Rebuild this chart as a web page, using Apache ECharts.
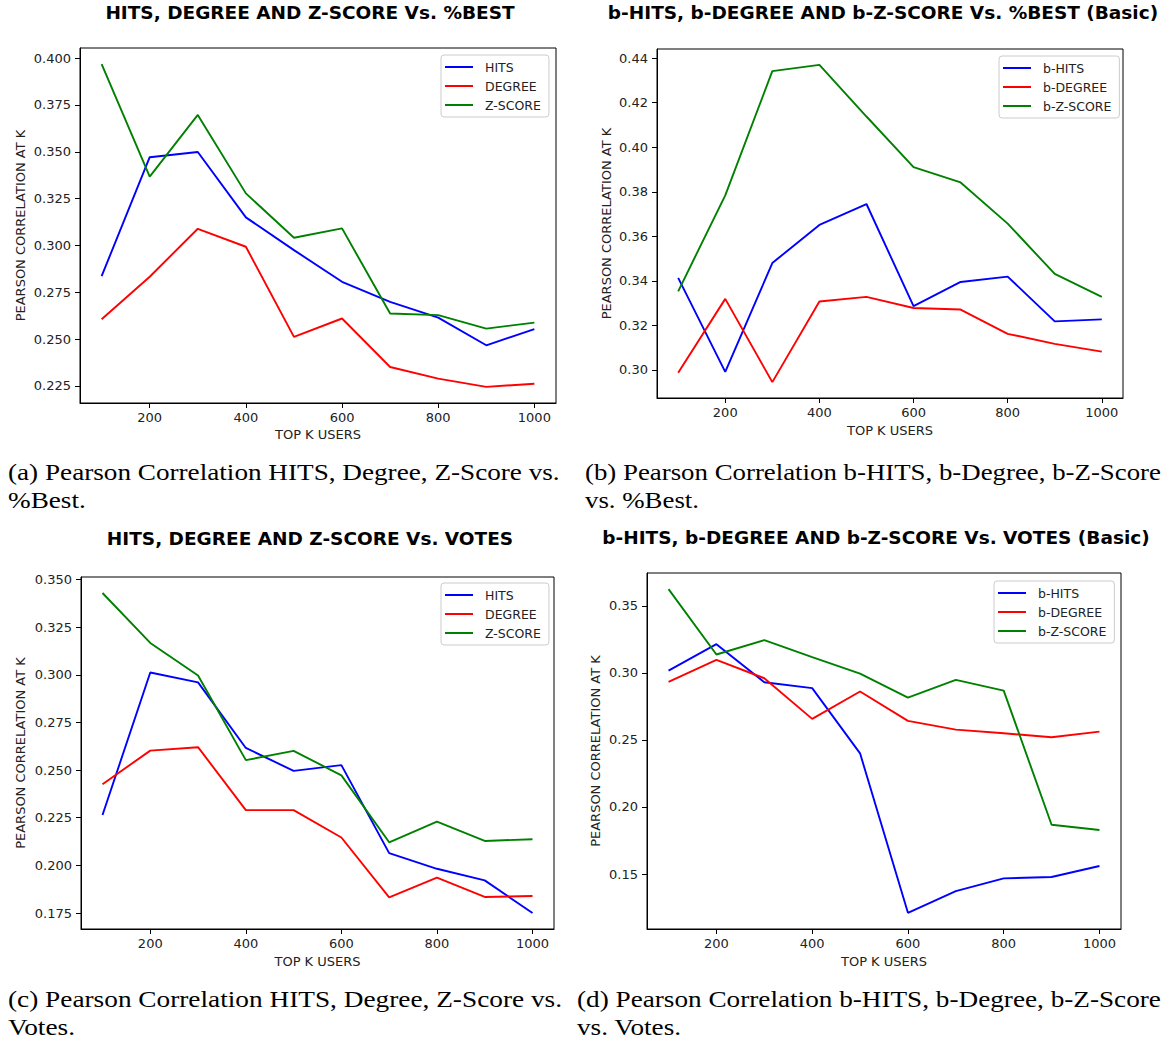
<!DOCTYPE html>
<html>
<head>
<meta charset="utf-8">
<title>Pearson correlation at K</title>
<script src="https://cdn.jsdelivr.net/npm/echarts@6/dist/echarts.min.js"></script>
<style>
  html, body { margin: 0; padding: 0; background: #ffffff; }
  #chart { width: 1170px; height: 1041px; }
</style>
</head>
<body>
<div id="chart"></div>
<script>
// ---- data -------------------------------------------------------------
const topK = [100, 200, 300, 400, 500, 600, 700, 800, 900, 1000];
const xTicks = [200, 400, 600, 800, 1000];

// (a) vs. %Best
const hitsBest   = [0.2836, 0.3471, 0.3499, 0.3150, 0.2975, 0.2806, 0.2699, 0.2615, 0.2467, 0.2553];
const degreeBest = [0.2606, 0.2833, 0.3089, 0.2993, 0.2512, 0.2610, 0.2351, 0.2289, 0.2245, 0.2262];
const zscoreBest = [0.3968, 0.3367, 0.3697, 0.3278, 0.3041, 0.3091, 0.2637, 0.2628, 0.2556, 0.2588];
const yTicksBest = [0.225, 0.250, 0.275, 0.300, 0.325, 0.350, 0.375, 0.400];

// (b) basic variants vs. %Best
const bHitsBest   = [0.3413, 0.2991, 0.3480, 0.3651, 0.3745, 0.3286, 0.3395, 0.3419, 0.3218, 0.3227];
const bDegreeBest = [0.2987, 0.3319, 0.2945, 0.3307, 0.3328, 0.3278, 0.3271, 0.3162, 0.3117, 0.3082];
const bZscoreBest = [0.3353, 0.3784, 0.4342, 0.4370, 0.4138, 0.3911, 0.3842, 0.3657, 0.3431, 0.3328];
const yTicksBBest = [0.30, 0.32, 0.34, 0.36, 0.38, 0.40, 0.42, 0.44];

// (c) vs. Votes
const hitsVotes   = [0.2264, 0.3012, 0.2960, 0.2616, 0.2496, 0.2526, 0.2064, 0.1982, 0.1921, 0.1750];
const degreeVotes = [0.2426, 0.2602, 0.2620, 0.2290, 0.2290, 0.2146, 0.1832, 0.1936, 0.1834, 0.1839];
const zscoreVotes = [0.3429, 0.3167, 0.2996, 0.2552, 0.2601, 0.2472, 0.2121, 0.2229, 0.2128, 0.2137];
const yTicksVotes = [0.175, 0.200, 0.225, 0.250, 0.275, 0.300, 0.325, 0.350];

// (d) basic variants vs. Votes
const bHitsVotes   = [0.3017, 0.3214, 0.2930, 0.2886, 0.2400, 0.1211, 0.1373, 0.1468, 0.1478, 0.1560];
const bDegreeVotes = [0.2933, 0.3097, 0.2960, 0.2657, 0.2861, 0.2642, 0.2577, 0.2550, 0.2520, 0.2562];
const bZscoreVotes = [0.3624, 0.3137, 0.3244, 0.3117, 0.2995, 0.2816, 0.2948, 0.2868, 0.1868, 0.1828];
const yTicksBVotes = [0.15, 0.20, 0.25, 0.30, 0.35];

const seriesNames  = ['HITS', 'DEGREE', 'Z-SCORE'];
const bSeriesNames = ['b-HITS', 'b-DEGREE', 'b-Z-SCORE'];
const lineColors = ['#0000ff', '#ff0000', '#008000'];

// ---- panel layout -----------------------------------------------------
const panels = [
  {
    grid: { left: 80, top: 48, width: 476, height: 355 },
    title: 'HITS, DEGREE AND Z-SCORE Vs. %BEST', titleAt: [310, 12],
    names: seriesNames, values: [hitsBest, degreeBest, zscoreBest],
    yTicks: yTicksBest, digits: 3, legendAt: [441, 55],
    yNameGap: 53, xNameGap: 25,
    caption: ['(a) Pearson Correlation HITS, Degree, Z-Score vs.', '%Best.'],
    captionAt: [8, 472], captionWidth: 552
  },
  {
    grid: { left: 657, top: 49, width: 466, height: 349 },
    title: 'b-HITS, b-DEGREE AND b-Z-SCORE Vs. %BEST (Basic)', titleAt: [883, 12],
    names: bSeriesNames, values: [bHitsBest, bDegreeBest, bZscoreBest],
    yTicks: yTicksBBest, digits: 2, legendAt: [999, 56],
    yNameGap: 44, xNameGap: 26,
    caption: ['(b) Pearson Correlation b-HITS, b-Degree, b-Z-Score', 'vs. %Best.'],
    captionAt: [585, 472], captionWidth: 576
  },
  {
    grid: { left: 81, top: 577, width: 473, height: 352 },
    title: 'HITS, DEGREE AND Z-SCORE Vs. VOTES', titleAt: [310, 538],
    names: seriesNames, values: [hitsVotes, degreeVotes, zscoreVotes],
    yTicks: yTicksVotes, digits: 3, legendAt: [441, 583],
    yNameGap: 54, xNameGap: 26,
    caption: ['(c) Pearson Correlation HITS, Degree, Z-Score vs.', 'Votes.'],
    captionAt: [8, 999], captionWidth: 554
  },
  {
    grid: { left: 647, top: 573, width: 474, height: 356 },
    title: 'b-HITS, b-DEGREE AND b-Z-SCORE Vs. VOTES (Basic)', titleAt: [876, 537],
    names: bSeriesNames, values: [bHitsVotes, bDegreeVotes, bZscoreVotes],
    yTicks: yTicksBVotes, digits: 2, legendAt: [994, 581],
    yNameGap: 45, xNameGap: 26,
    caption: ['(d) Pearson Correlation b-HITS, b-Degree, b-Z-Score', 'vs. Votes.'],
    captionAt: [577, 999], captionWidth: 584
  }
];

const SANS = '"DejaVu Sans", sans-serif';
const SERIF = '"Liberation Serif", "DejaVu Serif", serif';
const CAPTION_SIZE = 23;
const TITLE_SIZE = 18.5;
const INK = '#222222';

// Axis extents padded by 5% of the data span on each side
function padded(arr) {
  const lo = Math.min(...arr), hi = Math.max(...arr);
  const pad = (hi - lo) * 0.05;
  return [lo - pad, hi + pad];
}

// Measure caption text so the first line can be set to the column width
const measureCtx = document.createElement('canvas').getContext('2d');
measureCtx.font = CAPTION_SIZE + 'px ' + SERIF;
function textWidth(s) { return measureCtx.measureText(s).width; }

const grids = [], xAxes = [], yAxes = [], series = [], legends = [], graphics = [];

panels.forEach((p, i) => {
  grids.push(Object.assign({ show: true, borderColor: '#000000', borderWidth: 1, containLabel: false }, p.grid));

  const [xMin, xMax] = padded(topK);
  xAxes.push({
    gridIndex: i, type: 'value', min: xMin, max: xMax,
    name: 'TOP K USERS', nameLocation: 'middle', nameGap: p.xNameGap,
    nameTextStyle: { fontFamily: SANS, fontSize: 13, color: INK },
    axisLine: { show: true, onZero: false, lineStyle: { color: '#000000', width: 1 } },
    axisTick: { show: true, inside: false, length: 5, customValues: xTicks, lineStyle: { color: '#000000', width: 1 } },
    axisLabel: {
      customValues: xTicks, margin: 8, fontFamily: SANS, fontSize: 13, color: INK,
      formatter: v => String(Math.round(v))
    },
    splitLine: { show: false }
  });

  const [yMin, yMax] = padded([].concat(...p.values));
  yAxes.push({
    gridIndex: i, type: 'value', min: yMin, max: yMax,
    name: 'PEARSON CORRELATION AT K', nameLocation: 'middle', nameGap: p.yNameGap,
    nameTextStyle: { fontFamily: SANS, fontSize: 13, color: INK },
    axisLine: { show: true, onZero: false, lineStyle: { color: '#000000', width: 1 } },
    axisTick: { show: true, inside: false, length: 5, customValues: p.yTicks, lineStyle: { color: '#000000', width: 1 } },
    axisLabel: {
      customValues: p.yTicks, margin: 9, fontFamily: SANS, fontSize: 13, color: INK,
      formatter: v => Number(v).toFixed(p.digits)
    },
    splitLine: { show: false }
  });

  p.names.forEach((name, j) => {
    series.push({
      name: name, type: 'line', xAxisIndex: i, yAxisIndex: i,
      data: topK.map((k, n) => [k, p.values[j][n]]),
      symbol: 'none', showSymbol: false,
      lineStyle: { color: lineColors[j], width: 1.9 },
      itemStyle: { color: lineColors[j] },
      emphasis: { disabled: true },
      z: 3 + j
    });
  });

  legends.push({
    data: p.names, orient: 'vertical', left: p.legendAt[0], top: p.legendAt[1],
    icon: 'rect', itemWidth: 28, itemHeight: 2, itemGap: 5,
    padding: [5, 8, 5, 4],
    borderColor: '#cccccc', borderWidth: 1, borderRadius: 3,
    backgroundColor: 'rgba(255,255,255,0.8)',
    selectedMode: false,
    textStyle: { fontFamily: SANS, fontSize: 12.5, color: INK, lineHeight: 14, padding: [0, 0, 0, 7] }
  });

  graphics.push({
    type: 'text', x: p.titleAt[0], y: p.titleAt[1], silent: true,
    style: {
      text: p.title, fill: '#000000', fontFamily: SANS, fontSize: TITLE_SIZE, fontWeight: 'bold',
      align: 'center', verticalAlign: 'middle'
    }
  });

  const stretch = p.captionWidth / textWidth(p.caption[0]);
  p.caption.forEach((line, k) => {
    graphics.push({
      type: 'text', x: p.captionAt[0], y: p.captionAt[1] + 28 * k, silent: true,
      scaleX: stretch, originX: 0, originY: 0,
      style: {
        text: line, fill: '#000000', fontFamily: SERIF, fontSize: CAPTION_SIZE,
        align: 'left', verticalAlign: 'middle'
      }
    });
  });
});

const chart = echarts.init(document.getElementById('chart'), null, { renderer: 'svg' });
chart.setOption({
  animation: false,
  backgroundColor: '#ffffff',
  textStyle: { fontFamily: SANS },
  grid: grids,
  xAxis: xAxes,
  yAxis: yAxes,
  legend: legends,
  series: series,
  graphic: graphics
});
</script>
</body>
</html>
